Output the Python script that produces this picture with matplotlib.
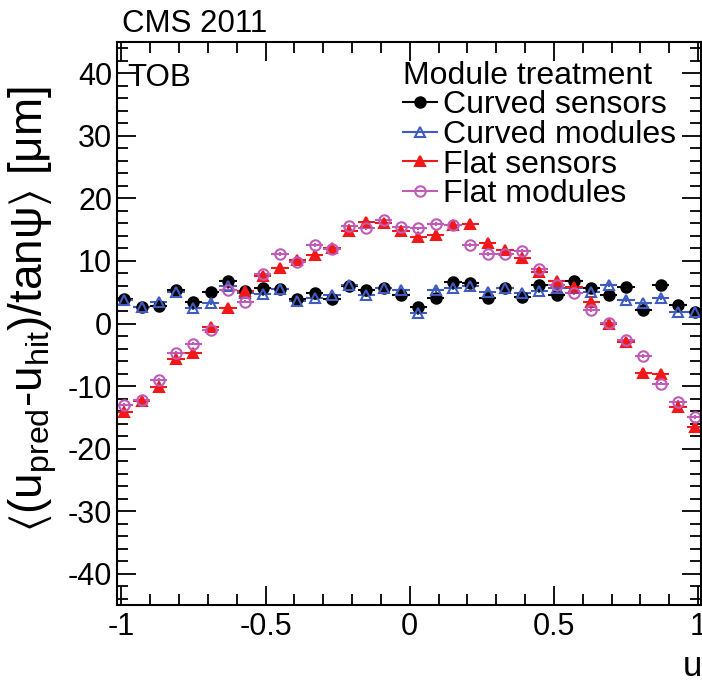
import matplotlib.pyplot as plt
from matplotlib.lines import Line2D
from matplotlib.ticker import MultipleLocator, FuncFormatter

plt.rcParams['font.family'] = ['Liberation Sans', 'DejaVu Sans']
plt.rcParams['mathtext.fontset'] = 'custom'
plt.rcParams['mathtext.rm'] = 'Liberation Sans'
plt.rcParams['mathtext.default'] = 'regular'
plt.rcParams['axes.unicode_minus'] = False

# bin centres (34 bins of width 0.06 from -1.02 to 1.02)
u_centres = [-0.99, -0.93, -0.87, -0.81, -0.75, -0.69, -0.63, -0.57, -0.51,
             -0.45, -0.39, -0.33, -0.27, -0.21, -0.15, -0.09, -0.03, 0.03,
             0.09, 0.15, 0.21, 0.27, 0.33, 0.39, 0.45, 0.51, 0.57, 0.63,
             0.69, 0.75, 0.81, 0.87, 0.93, 0.99]
half_width = 0.03

curved_sensors = [3.9, 2.7, 2.8, 5.3, 3.4, 5.0, 6.8, 5.2, 5.6, 5.5, 3.9, 4.8,
                  3.9, 6.0, 5.4, 5.6, 4.6, 2.6, 4.1, 6.7, 6.4, 4.0, 5.6, 4.3,
                  6.2, 4.6, 6.8, 5.6, 4.5, 5.9, 2.2, 6.1, 3.0, 1.9]
curved_modules = [3.8, 2.6, 3.5, 5.1, 2.5, 3.3, 6.0, 4.9, 4.7, 5.5, 3.6, 4.0,
                  4.6, 6.1, 4.6, 5.6, 5.4, 1.7, 5.3, 5.7, 6.0, 5.1, 5.6, 4.8,
                  5.2, 5.6, 5.6, 5.1, 6.2, 3.8, 3.2, 4.1, 1.9, 1.9]
flat_sensors = [-14.1, -12.4, -10.2, -5.7, -4.7, -0.5, 2.4, 5.2, 7.6, 8.9,
                10.1, 11.0, 12.0, 14.8, 16.2, 16.0, 14.8, 13.8, 14.2, 15.7,
                15.9, 12.8, 11.7, 10.5, 8.3, 6.8, 5.8, 3.5, 0.0, -3.0, -7.9,
                -8.1, -13.3, -16.5]
flat_modules = [-13.0, -12.3, -9.0, -4.7, -3.2, -1.0, 5.3, 3.5, 7.9, 11.1,
                9.8, 12.5, 11.9, 15.6, 15.3, 16.5, 15.4, 15.2, 15.9, 15.8,
                12.5, 11.1, 11.1, 11.6, 8.7, 6.1, 4.8, 2.2, 0.1, -2.7, -5.2,
                -9.6, -12.5, -15.0]
stat_err = 0.3

series = [
    ("Curved sensors", curved_sensors, "#000000", "o", True),
    ("Curved modules", curved_modules, "#3f5cc0", "^", False),
    ("Flat sensors", flat_sensors, "#f01818", "^", True),
    ("Flat modules", flat_modules, "#c05cb8", "o", False),
]


def plot_series(ax, name, values, color, marker, filled):
    style = dict(
        color = color, marker = marker,
        mfc = color if filled else "none",
        mec = color, ms = 7.5, mew = 1.5
        )
    ax.errorbar(
        u_centres, values,
        xerr = half_width, yerr = stat_err,
        ls = "none", elinewidth = 1.5, capsize = 0,
        **style
        )
    # legend entry: line through marker, as in ROOT
    return Line2D([], [], ls = "-", lw = 1.5, label = name, **style)


fig = plt.figure(figsize = (7.02, 6.84), dpi = 100)
ax = fig.add_axes([117 / 702, 1 - 605 / 684, 584 / 702, 563 / 684])

handles = [plot_series(ax, *s) for s in series]

ax.set(xlim = [-1.015, 1.01], ylim = [-45, 45])
ax.xaxis.set_major_locator(MultipleLocator(0.5))
ax.xaxis.set_minor_locator(MultipleLocator(0.1))
ax.yaxis.set_major_locator(MultipleLocator(10))
ax.yaxis.set_minor_locator(MultipleLocator(2))
ax.xaxis.set_major_formatter(FuncFormatter(lambda v, p: f"{v:g}"))
ax.yaxis.set_major_formatter(FuncFormatter(lambda v, p: f"{v:g}"))
ax.tick_params(which = "both", direction = "in", top = True, right = True,
               width = 1.3, labelsize = 22)
ax.tick_params(which = "major", length = 14)
ax.tick_params(which = "minor", length = 8)
ax.tick_params(axis = "y", which = "major", pad = 3.5)
ax.tick_params(axis = "x", which = "major", pad = 5)
for sp in ax.spines.values():
    sp.set_linewidth(1.5)

ax.text(0.017, 0.962, "TOB", transform = ax.transAxes,
        ha = "left", va = "top", fontsize = 22.5)

leg = ax.legend(
    handles = handles,
    title = "Module treatment", loc = "upper left",
    bbox_to_anchor = (0.49, 0.967), frameon = False,
    fontsize = 23, title_fontsize = 23, alignment = "left",
    handlelength = 1.05, handletextpad = 0.2, labelspacing = -0.01,
    borderpad = 0, borderaxespad = 0
    )

fig.text(122 / 702, 1 - 32 / 684, "CMS 2011", fontsize = 22.5,
         ha = "left", va = "baseline")

fig.text(0.046, 0.548,
         r"$\langle$(u$_{pred}$-u$_{hit}$)/tanψ$\rangle$ [μm]",
         rotation = "vertical", fontsize = 33, ha = "center", va = "center")

fig.text(682 / 702, 1 - 676 / 684, "u$_{r}$", fontsize = 25,
         ha = "left", va = "baseline")

fig.savefig("out.png", dpi = 100)
